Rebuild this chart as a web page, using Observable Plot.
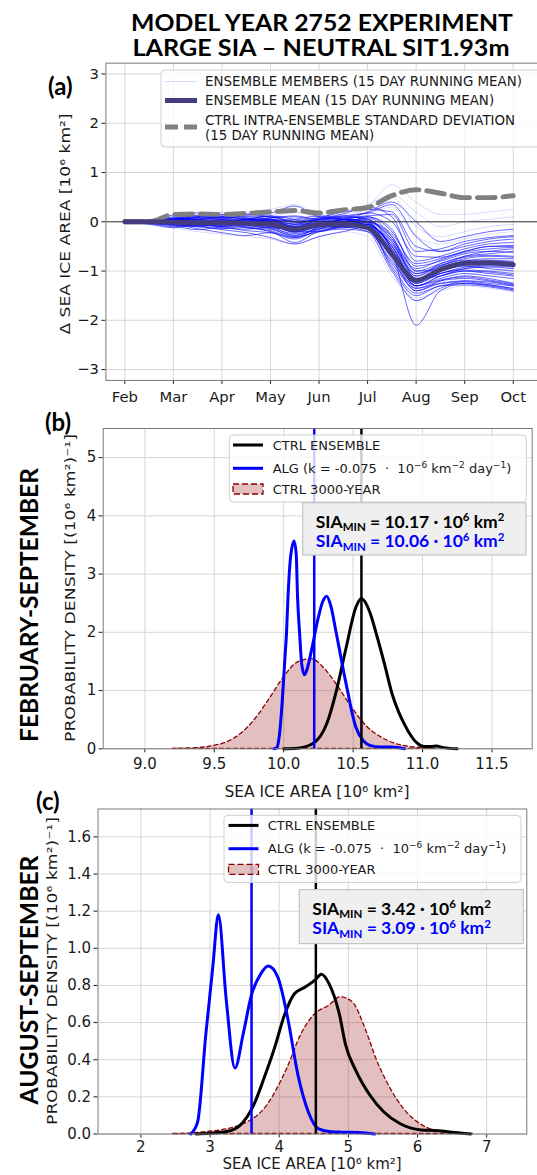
<!DOCTYPE html>
<html><head><meta charset="utf-8">
<script src="https://cdn.jsdelivr.net/npm/d3@7"></script>
<script src="https://cdn.jsdelivr.net/npm/@observablehq/plot@0.6"></script>
<style>
body{margin:0;background:#fff;}
#root{position:relative;width:537px;height:1175px;overflow:hidden;background:#fff;}
#root svg.plotsvg{position:absolute;left:0;}
</style>
</head><body><div id="root"></div>
<script>
// ---------- Panel (a) data ----------
const monthLabels = ["Feb","Mar","Apr","May","Jun","Jul","Aug","Sep","Oct"];
const monthTicks = [0,1,2,3,4,5,6,7,8];
const aTicksY = [-3,-2,-1,0,1,2,3];
const dayPos = [0,0.5,1,1.5,2,2.5,3,3.5,4,4.5,5,5.5,6,6.5,7,7.5,8];
const ensembleMean = [0,0,-0.01,-0.02,-0.02,-0.03,-0.05,-0.15,-0.06,-0.05,-0.12,-0.65,-1.19,-0.97,-0.84,-0.83,-0.87];
const ctrlStd = [0,0,0.15,0.16,0.15,0.17,0.2,0.23,0.18,0.24,0.29,0.53,0.65,0.58,0.49,0.49,0.53];
const members = [
 [0,0.02,0.08,0.12,0.05,0.0,-0.05,-0.22,-0.1,-0.05,-0.15,-0.9,-1.45,-1.3,-1.25,-1.3,-1.38],
 [0,-0.05,-0.12,-0.05,0.0,-0.12,-0.18,-0.32,-0.1,0.0,0.05,-0.6,-2.1,-1.4,-1.25,-1.28,-1.35],
 [0,0.03,0.14,0.18,0.08,0.05,0.12,0.0,0.05,0.12,0.18,0.35,-0.3,-0.6,-0.5,-0.4,-0.35],
 [0,-0.03,-0.06,-0.14,-0.22,-0.28,-0.22,-0.42,-0.2,-0.15,-0.2,-0.8,-1.3,-1.1,-1.0,-1.05,-1.1],
 [0,0.02,0.05,0.0,-0.05,0.05,0.12,0.05,0.0,0.05,0.0,-0.3,-1.0,-0.85,-0.7,-0.65,-0.6],
 [0,-0.02,-0.08,-0.16,-0.1,-0.05,-0.1,-0.27,-0.15,-0.1,-0.05,-0.5,-1.2,-1.0,-0.9,-0.95,-1.0],
 [0,0.01,0.1,0.05,0.1,0.14,0.18,0.32,0.1,0.05,-0.1,-0.7,-1.4,-1.2,-1.1,-1.15,-1.25],
 [0,-0.04,-0.02,-0.08,-0.16,-0.22,-0.32,-0.45,-0.3,-0.2,-0.1,-0.4,-1.1,-0.9,-0.75,-0.7,-0.72],
 [0,0.03,0.06,0.02,-0.02,0.0,0.05,-0.1,0.05,0.16,0.3,0.1,-0.8,-0.7,-0.55,-0.45,-0.42],
 [0,-0.02,0.0,0.05,0.0,-0.08,-0.12,-0.15,-0.05,-0.1,-0.2,-1.0,-1.6,-1.35,-1.2,-1.25,-1.3],
 [0,0.0,-0.05,-0.1,-0.05,0.0,0.0,-0.1,0.0,0.0,-0.05,-0.45,-1.15,-0.95,-0.85,-0.8,-0.82],
 [0,0.02,0.04,0.1,0.15,0.08,0.0,-0.05,-0.05,0.05,0.1,-0.2,-0.9,-0.8,-0.65,-0.6,-0.62],
 [0,-0.03,-0.1,-0.05,-0.12,-0.15,-0.1,-0.2,-0.2,-0.08,0.0,-0.55,-1.25,-1.05,-0.95,-0.92,-0.95],
 [0,0.01,0.0,-0.02,0.02,0.05,0.0,-0.15,0.0,0.1,0.05,-0.35,-1.05,-0.9,-0.7,-0.6,-0.55],
 [0,-0.01,-0.05,-0.08,-0.05,-0.1,-0.2,-0.35,-0.15,-0.05,-0.15,-0.85,-1.35,-1.2,-1.15,-1.2,-1.28],
 [0,0.02,0.05,0.08,0.05,0.02,0.05,-0.05,0.05,0.05,0.2,0.4,0.0,-0.4,-0.3,-0.2,-0.15],
 [0,-0.02,-0.03,0.0,-0.05,-0.05,-0.08,-0.2,-0.1,-0.12,-0.1,-0.6,-1.3,-1.15,-1.05,-1.1,-1.15],
 [0,0.02,0.06,0.04,0.0,0.02,0.08,0.1,0.02,0.0,0.0,-0.25,-0.85,-0.75,-0.6,-0.5,-0.48],
 [0,0.0,0.02,-0.05,-0.1,-0.05,-0.05,-0.12,-0.08,-0.02,-0.05,-0.5,-1.2,-1.0,-0.88,-0.85,-0.9],
 [0,-0.02,0.02,0.06,0.1,0.05,-0.05,-0.2,-0.1,-0.05,0.1,-0.15,-1.0,-0.95,-0.8,-0.75,-0.75],
 [0,0.01,-0.02,-0.06,0.0,0.02,-0.02,-0.08,0.02,0.02,-0.08,-0.75,-1.4,-1.25,-1.2,-1.22,-1.3],
 [0,0.0,0.05,0.1,0.08,0.12,0.1,-0.02,0.05,0.12,0.05,-0.4,-1.1,-0.85,-0.72,-0.68,-0.7],
 [0,-0.01,-0.04,-0.02,-0.08,-0.12,-0.15,-0.28,-0.12,-0.06,-0.12,-0.7,-1.25,-1.05,-0.98,-1.0,-1.05],
 [0,0.01,0.03,0.05,0.02,0.0,0.03,-0.05,0.08,0.2,0.25,0.2,-0.5,-0.6,-0.45,-0.35,-0.3],
 [0,0.0,-0.02,0.0,0.03,0.06,0.04,-0.1,-0.03,0.02,-0.02,-0.55,-1.3,-1.1,-0.95,-0.9,-0.92],
 [0,0.02,0.0,-0.04,-0.08,-0.02,0.02,-0.12,-0.05,0.0,0.08,-0.3,-1.15,-1.1,-1.0,-1.02,-1.08],
 [0,-0.01,0.03,0.08,0.04,-0.03,-0.06,-0.18,-0.08,0.05,0.0,-0.65,-1.35,-1.25,-1.22,-1.28,-1.36],
 [0,0.01,0.07,0.12,0.1,0.06,0.02,0.05,0.12,0.08,0.12,0.15,-0.6,-0.55,-0.4,-0.32,-0.28],
 [0,-0.03,-0.07,-0.04,-0.1,-0.18,-0.22,-0.32,-0.18,-0.12,-0.08,-0.45,-1.05,-0.88,-0.78,-0.78,-0.8],
 [0,0.0,0.04,0.02,0.06,0.1,0.06,0.0,-0.04,0.04,-0.02,-0.5,-1.2,-1.05,-0.92,-0.88,-0.88],
 [0,0.02,-0.01,-0.05,-0.02,0.04,0.08,0.12,0.05,0.08,0.18,0.0,-0.7,-0.72,-0.6,-0.5,-0.5],
 [0,-0.02,-0.06,-0.1,-0.14,-0.08,-0.14,-0.3,-0.2,-0.08,-0.1,-0.95,-1.5,-1.3,-1.28,-1.32,-1.4],
 [0,0.01,0.06,0.09,0.12,0.16,0.1,0.02,0.08,0.06,0.02,-0.35,-0.95,-0.78,-0.62,-0.55,-0.52],
 [0,-0.01,-0.03,-0.08,-0.04,-0.06,-0.12,-0.24,-0.14,-0.04,-0.06,-0.6,-1.3,-1.18,-1.12,-1.18,-1.26]
];
const lightMembers = [
 [0,0.03,0.1,0.12,0.15,0.2,0.25,0.35,0.15,0.1,0.3,0.75,0.4,0.15,0.15,0.2,0.25],
 [0,-0.04,-0.12,-0.2,-0.25,-0.3,-0.35,-0.45,-0.3,-0.2,-0.3,-1.1,-1.55,-1.4,-1.3,-1.35,-1.42],
 [0,0.02,0.08,0.15,0.2,0.15,0.1,0.2,0.1,0.2,0.35,0.55,0.2,-0.1,0.0,0.05,0.1],
 [0,-0.02,-0.06,-0.1,-0.15,-0.1,-0.2,-0.3,-0.2,-0.1,-0.1,-0.8,-1.6,-1.3,-1.1,-1.0,-0.95],
 [0,0.02,0.05,0.1,0.12,0.1,0.05,0.0,0.1,0.15,0.25,0.5,-0.1,-0.3,-0.2,-0.1,-0.05],
 [0,0.01,0.0,0.05,0.08,0.1,0.15,0.2,0.1,0.05,0.15,0.3,-0.3,-0.45,-0.35,-0.25,-0.2]
];

// ---------- Panel (b) data: February-September ----------
const febTicksX = [9.0,9.5,10.0,10.5,11.0,11.5];
const febTicksY = [0,1,2,3,4,5];
const febCtrl3000X = [9.2,9.3,9.4,9.5,9.6,9.7,9.8,9.9,10.0,10.1,10.2,10.3,10.4,10.5,10.6,10.7,10.8,10.9,11.0,11.1];
const febCtrl3000Y = [0.0,0.005,0.015,0.05,0.12,0.27,0.52,0.86,1.22,1.48,1.54,1.36,1.04,0.68,0.38,0.2,0.09,0.035,0.012,0.0];
const febAlgX = [9.93,9.95,9.97,9.99,10.01,10.02,10.03,10.05,10.075,10.09,10.10,10.115,10.13,10.15,10.17,10.2,10.25,10.28,10.31,10.34,10.38,10.45,10.52,10.57,10.62,10.7,10.78,10.87];
const febAlgY = [0,0.02,0.25,0.83,1.6,1.97,2.55,3.3,3.57,3.35,2.6,1.97,1.45,1.27,1.38,1.69,2.26,2.52,2.62,2.45,1.97,1.11,0.37,0.15,0.06,0.03,0.03,0.0];
const febCtrlX = [10.0,10.1,10.21,10.31,10.38,10.45,10.52,10.56,10.62,10.67,10.73,10.78,10.83,10.87,10.91,10.96,11.01,11.06,11.1,11.15,11.25];
const febCtrlY = [0,0.01,0.09,0.43,1.0,1.74,2.43,2.58,2.35,1.95,1.42,0.95,0.62,0.42,0.25,0.1,0.04,0.04,0.05,0.02,0.0];
const febAlgLine = [10.22];
const febCtrlLine = [10.56];

// ---------- Panel (c) data: August-September ----------
const augTicksX = [2,3,4,5,6,7];
const augTicksY = [0,0.2,0.4,0.6,0.8,1.0,1.2,1.4,1.6];
const augCtrl3000X = [2.47,2.94,3.43,3.83,4.12,4.32,4.52,4.72,4.89,5.06,5.26,5.41,5.61,5.8,6.0,6.25,6.5,6.82];
const augCtrl3000Y = [0,0.01,0.045,0.155,0.355,0.536,0.645,0.69,0.736,0.71,0.555,0.4,0.245,0.136,0.064,0.018,0.005,0];
const augAlgX = [2.72,2.82,2.94,3.04,3.12,3.235,3.36,3.48,3.6,3.73,3.84,3.98,4.12,4.27,4.42,4.57,4.75,4.91,5.15,5.38];
const augAlgY = [0,0.064,0.54,0.9,1.18,0.72,0.355,0.54,0.75,0.86,0.905,0.845,0.63,0.32,0.12,0.027,0.012,0.01,0.008,0.0];
const augCtrlX = [2.8,3.0,3.24,3.43,3.63,3.78,3.93,4.08,4.22,4.37,4.52,4.61,4.72,4.87,4.96,5.11,5.31,5.51,5.75,6.05,6.3,6.5,6.77];
const augCtrlY = [0,0.004,0.013,0.045,0.155,0.3,0.46,0.645,0.755,0.79,0.83,0.86,0.81,0.645,0.48,0.34,0.21,0.12,0.055,0.022,0.018,0.009,0];
const augAlgLine = [3.6];
const augCtrlLine = [4.53];

// ---------- helpers ----------
const root = document.getElementById("root");
const baseStyle = {fontFamily: "'DejaVu Sans', sans-serif", fontSize: "15px", background: "none", overflow: "visible", color: "#1a1a1a"};
const gridColor = "#d6d6d6";
const frameColor = "#7a7a7a";
function rows(xs, ys) { return xs.map((x, i) => ({x, y: ys[i]})); }
function place(svg, top) {
  svg.classList.add("plotsvg");
  svg.style.position = "absolute";
  svg.style.top = top + "px";
  svg.style.left = "0px";
  root.appendChild(svg);
}
const minus = d => (d < 0 ? "\u2212" + (-d) : String(d));

// ---------- Panel (a) ----------
const memberRows = [];
members.forEach((vals, i) => vals.forEach((v, j) => memberRows.push({x: dayPos[j], y: v, id: i})));
const lightRows = [];
lightMembers.forEach((vals, i) => vals.forEach((v, j) => lightRows.push({x: dayPos[j], y: v, id: i})));
const plotA = Plot.plot({
  width: 545, height: 380,
  marginLeft: 107, marginRight: 0, marginTop: 23, marginBottom: 35,
  style: baseStyle,
  x: {domain: [-0.39, 8.5], ticks: monthTicks, tickFormat: i => monthLabels[i], tickSize: 4, tickPadding: 7, label: null},
  y: {domain: [-3.22, 3.22], ticks: aTicksY, tickFormat: minus, tickSize: 4, tickPadding: 3, label: null},
  marks: [
    Plot.ruleX(monthTicks, {stroke: gridColor}),
    Plot.ruleY(aTicksY, {stroke: gridColor}),
    Plot.line(lightRows, {x: "x", y: "y", z: "id", stroke: "#0000ff", strokeOpacity: 0.15, strokeWidth: 1, curve: "monotone-x"}),
    Plot.line(memberRows, {x: "x", y: "y", z: "id", stroke: "#0000ff", strokeOpacity: 0.6, strokeWidth: 1, curve: "monotone-x"}),
    Plot.ruleY([0], {stroke: "#333", strokeWidth: 1}),
    Plot.line(rows(dayPos, ctrlStd), {x: "x", y: "y", stroke: "#808080", strokeWidth: 5, strokeDasharray: "18,8", curve: "monotone-x"}),
    Plot.line(rows(dayPos, ensembleMean), {x: "x", y: "y", stroke: "#433d80", strokeWidth: 5, curve: "monotone-x"}),
    Plot.frame({stroke: frameColor})
  ]
});
place(plotA, 40);

// ---------- Panel (b) ----------
const plotB = Plot.plot({
  width: 537, height: 360,
  marginLeft: 102.7, marginRight: 5.3, marginTop: 8, marginBottom: 31.7,
  style: baseStyle,
  x: {domain: [8.70, 11.79], ticks: febTicksX, tickFormat: d3.format(".1f"), tickSize: 4, tickPadding: 6, label: null},
  y: {domain: [0, 5.5], ticks: febTicksY, tickFormat: d3.format("d"), tickSize: 4, tickPadding: 3, label: null},
  marks: [
    Plot.ruleX(febTicksX, {stroke: gridColor}),
    Plot.ruleY(febTicksY, {stroke: gridColor}),
    Plot.areaY(rows(febCtrl3000X, febCtrl3000Y), {x: "x", y: "y", fill: "#a52a2a", fillOpacity: 0.3, stroke: "#8b0000", strokeWidth: 1.3, strokeDasharray: "4,3", curve: "monotone-x"}),
    Plot.line(rows(febCtrlX, febCtrlY), {x: "x", y: "y", stroke: "#000", strokeWidth: 3, curve: "monotone-x"}),
    Plot.line(rows(febAlgX, febAlgY), {x: "x", y: "y", stroke: "#0000ff", strokeWidth: 3, curve: "monotone-x"}),
    Plot.ruleX(febAlgLine, {stroke: "#0000ff", strokeWidth: 2.5}),
    Plot.ruleX(febCtrlLine, {stroke: "#000", strokeWidth: 2.5}),
    Plot.frame({stroke: frameColor})
  ]
});
place(plotB, 420);

// ---------- Panel (c) ----------
const plotC = Plot.plot({
  width: 537, height: 385,
  marginLeft: 97.5, marginRight: 10.7, marginTop: 18.5, marginBottom: 41.5,
  style: baseStyle,
  x: {domain: [1.38, 7.58], ticks: augTicksX, tickFormat: d3.format("d"), tickSize: 4, tickPadding: 3, label: null},
  y: {domain: [0, 1.75], ticks: augTicksY, tickFormat: d3.format(".1f"), tickSize: 4, tickPadding: 3, label: null},
  marks: [
    Plot.ruleX(augTicksX, {stroke: gridColor}),
    Plot.ruleY(augTicksY, {stroke: gridColor}),
    Plot.areaY(rows(augCtrl3000X, augCtrl3000Y), {x: "x", y: "y", fill: "#a52a2a", fillOpacity: 0.3, stroke: "#8b0000", strokeWidth: 1.3, strokeDasharray: "4,3", curve: "monotone-x"}),
    Plot.line(rows(augCtrlX, augCtrlY), {x: "x", y: "y", stroke: "#000", strokeWidth: 3, curve: "monotone-x"}),
    Plot.line(rows(augAlgX, augAlgY), {x: "x", y: "y", stroke: "#0000ff", strokeWidth: 3, curve: "monotone-x"}),
    Plot.ruleX(augAlgLine, {stroke: "#0000ff", strokeWidth: 2.5}),
    Plot.ruleX(augCtrlLine, {stroke: "#000", strokeWidth: 2.5}),
    Plot.frame({stroke: frameColor})
  ]
});
place(plotC, 790);

// ---------- Overlay text, legends and annotation boxes ----------
const DJ = "font-family=\"'DejaVu Sans', sans-serif\"";
const LT = "font-family=\"Lato, 'Open Sans', sans-serif\" font-weight=\"700\"";
function legendBox(x, y, w, h) {
  return `<rect x="${x}" y="${y}" width="${w}" height="${h}" rx="4" fill="#fff" fill-opacity="0.8" stroke="#cfcfcf" stroke-width="1"/>`;
}
function legendKDE(x, y, sx, tx) {
  const r = [10, 33.3, 54];
  return legendBox(x, y, 297, 67) +
    `<line x1="${sx}" x2="${sx+30}" y1="${y+r[0]}" y2="${y+r[0]}" stroke="#000" stroke-width="3"/>` +
    `<text x="${tx}" y="${y+r[0]+4.7}" ${DJ} font-size="13" fill="#1a1a1a">CTRL ENSEMBLE</text>` +
    `<line x1="${sx}" x2="${sx+30}" y1="${y+r[1]}" y2="${y+r[1]}" stroke="#0000ff" stroke-width="3"/>` +
    `<text x="${tx}" y="${y+r[1]+4.7}" ${DJ} font-size="13" fill="#1a1a1a">ALG (k = -0.075 \u00a0·\u00a0 10<tspan font-size="9" dy="-5">\u22126</tspan><tspan dy="5"> km</tspan><tspan font-size="9" dy="-5">\u22122</tspan><tspan dy="5"> day</tspan><tspan font-size="9" dy="-5">\u22121</tspan><tspan dy="5">)</tspan></text>` +
    `<rect x="${sx}" y="${y+r[2]-5}" width="30" height="10" fill="#a52a2a" fill-opacity="0.3" stroke="#8b0000" stroke-width="1.3" stroke-dasharray="6,3"/>` +
    `<text x="${tx}" y="${y+r[2]+4.7}" ${DJ} font-size="13" fill="#1a1a1a">CTRL 3000-YEAR</text>`;
}
function sia(x, y, val, color) {
  return `<text x="${x}" y="${y}" ${LT} font-size="17.5" fill="${color}">SIA<tspan font-size="11.5" dy="3.5">MIN</tspan><tspan dy="-3.5"> = ${val} · 10</tspan><tspan font-size="11.5" dy="-6.5">6</tspan><tspan dy="6.5"> km</tspan><tspan font-size="11.5" dy="-6.5">2</tspan></text>`;
}
function annot(x, y, w, h, v1, v2) {
  return `<rect x="${x}" y="${y}" width="${w}" height="${h}" fill="#efefef" stroke="#c4c4c4" stroke-width="1.2"/>` +
    sia(x + 13, y + 25, v1, "#000") + sia(x + 13, y + 44.5, v2, "#0000ff");
}
let ov = `<svg xmlns="http://www.w3.org/2000/svg" width="537" height="1175" style="position:absolute;left:0;top:0;pointer-events:none">`;
// title
ov += `<text x="322" y="31" text-anchor="middle" ${LT} font-size="22" fill="#000" textLength="382" lengthAdjust="spacingAndGlyphs">MODEL YEAR 2752 EXPERIMENT</text>`;
ov += `<text x="321" y="56" text-anchor="middle" ${LT} font-size="22" fill="#000" textLength="377" lengthAdjust="spacingAndGlyphs">LARGE SIA – NEUTRAL SIT1.93m</text>`;
// panel letters
ov += `<text x="48" y="95" ${LT} font-size="24" fill="#000">(a)</text>`;
ov += `<text x="45" y="431" ${LT} font-size="24" fill="#000">(b)</text>`;
ov += `<text x="36" y="810" ${LT} font-size="24" fill="#000">(c)</text>`;
// rotated period labels
ov += `<text transform="translate(38,605) rotate(-90)" text-anchor="middle" ${LT} font-size="25" fill="#000" textLength="274" lengthAdjust="spacingAndGlyphs">FEBRUARY-SEPTEMBER</text>`;
ov += `<text transform="translate(38,980) rotate(-90)" text-anchor="middle" ${LT} font-size="25" fill="#000" textLength="249" lengthAdjust="spacingAndGlyphs">AUGUST-SEPTEMBER</text>`;
// axis labels
ov += `<text transform="translate(69.5,224) rotate(-90)" text-anchor="middle" ${DJ} font-size="14" fill="#1a1a1a" textLength="221" lengthAdjust="spacingAndGlyphs">Δ SEA ICE AREA [10⁶ km²]</text>`;
ov += `<text transform="translate(75,588) rotate(-90)" text-anchor="middle" ${DJ} font-size="14" fill="#1a1a1a" textLength="308" lengthAdjust="spacingAndGlyphs">PROBABILITY DENSITY [(10⁶ km²)⁻¹]</text>`;
ov += `<text transform="translate(56.5,971) rotate(-90)" text-anchor="middle" ${DJ} font-size="14" fill="#1a1a1a" textLength="308" lengthAdjust="spacingAndGlyphs">PROBABILITY DENSITY [(10⁶ km²)⁻¹]</text>`;
ov += `<text x="317" y="797" text-anchor="middle" ${DJ} font-size="15.5" fill="#1a1a1a">SEA ICE AREA [10⁶ km²]</text>`;
ov += `<text x="312" y="1169" text-anchor="middle" ${DJ} font-size="15" fill="#1a1a1a">SEA ICE AREA [10⁶ km²]</text>`;
// legend (a)
ov += legendBox(161, 70, 380, 77);
ov += `<line x1="165" x2="197" y1="81.5" y2="81.5" stroke="#0000ff" stroke-opacity="0.15" stroke-width="1"/>`;
ov += `<text x="205" y="86" ${DJ} font-size="13.4" fill="#1a1a1a">ENSEMBLE MEMBERS (15 DAY RUNNING MEAN)</text>`;
ov += `<line x1="165" x2="197" y1="100.5" y2="100.5" stroke="#433d80" stroke-width="5"/>`;
ov += `<text x="205" y="105" ${DJ} font-size="13.4" fill="#1a1a1a">ENSEMBLE MEAN (15 DAY RUNNING MEAN)</text>`;
ov += `<line x1="165" x2="197" y1="127" y2="127" stroke="#808080" stroke-width="5" stroke-dasharray="13,6"/>`;
ov += `<text x="205" y="124.5" ${DJ} font-size="13.4" fill="#1a1a1a">CTRL INTRA-ENSEMBLE STANDARD DEVIATION</text>`;
ov += `<text x="205" y="140" ${DJ} font-size="13.4" fill="#1a1a1a"> (15 DAY RUNNING MEAN)</text>`;
// legends (b), (c)
ov += legendKDE(229.3, 435, 233, 272.7);
ov += legendKDE(224, 815.4, 228.5, 267.8);
// annotation boxes
ov += annot(302.7, 502.7, 223.3, 52.3, "10.17", "10.06");
ov += annot(299.3, 889.6, 224, 54, "3.42", "3.09");
ov += `</svg>`;
root.insertAdjacentHTML("beforeend", ov);
</script>
</body></html>
